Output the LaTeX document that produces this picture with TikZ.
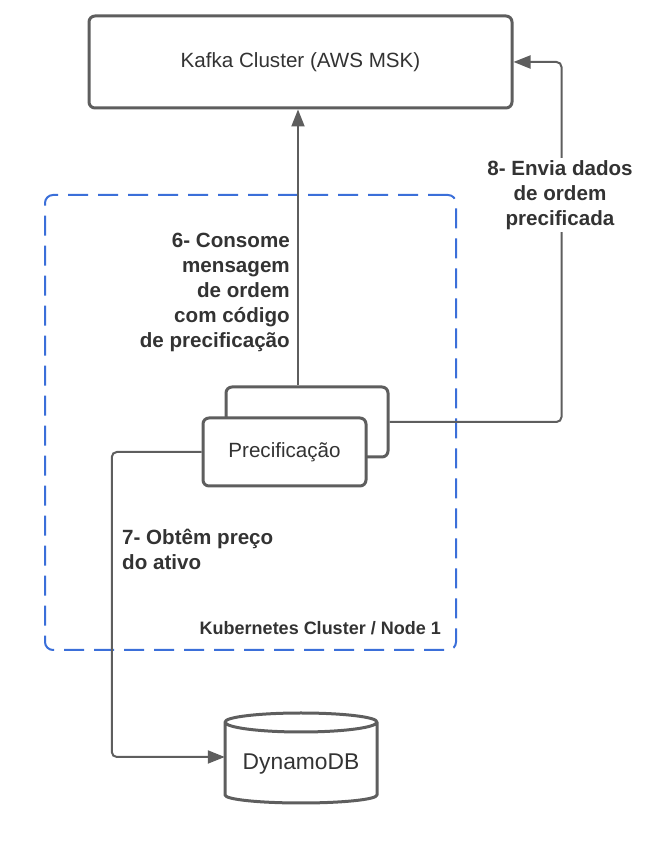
\documentclass[tikz,border=0pt]{standalone}
\usepackage{fontspec}
\setmainfont{Liberation Sans}
\usetikzlibrary{positioning,arrows.meta}
\definecolor{linha}{RGB}{94,94,94}
\definecolor{texto}{RGB}{51,51,51}
\definecolor{kube}{RGB}{59,111,217}
\tikzstyle{every box} = []
\tikzstyle{box} = [rectangle, rounded corners=6pt, draw=linha, line width=3pt, fill=white, text=texto, font=\fontsize{20.6}{24}\selectfont, every box]
\tikzstyle{link} = [-{Triangle[length=17pt,width=13pt]}, draw=linha, line width=2pt, rounded corners=5pt]
\tikzstyle{rotulo} = [text=texto, font=\fontsize{20.6}{25}\selectfont\bfseries, inner sep=2pt]

\begin{document}
\begin{tikzpicture}[x=1pt,y=1pt]
                    \useasboundingbox (0,0) rectangle (656,842);
                    \node[rectangle, draw=kube, line width=2pt, dash pattern=on 20pt off 10pt, rounded corners=8pt, minimum width=411pt, minimum height=455pt] (k8s) at (250.5,419.5) {};
                    \node[rotulo, font=\fontsize{18}{22}\selectfont\bfseries, anchor=east] (k8slabel) at (443,214) {Kubernetes Cluster / Node 1};

                    \node[box, minimum width=423pt, minimum height=92pt] (kafka) at (300.5,780) {Kafka Cluster (AWS MSK)};
                    \node[box, minimum width=162pt, minimum height=70pt] (precb) at (307,420) {};
                    \node[box, minimum width=163pt, minimum height=68pt] (precf) at (284.5,390) {Precificação};

                    % DynamoDB
                    \node[text=texto, font=\fontsize{22.8}{26}\selectfont, minimum width=152pt] (dynamo) at (301,78) {DynamoDB};
                    \draw[draw=linha, line width=3pt, line join=round]
                        ([shift={(-76pt,42pt)}]dynamo.center) coordinate (dbtop)
                        arc[start angle=180, end angle=0, x radius=76pt, y radius=9pt]
                        arc[start angle=0, end angle=-180, x radius=76pt, y radius=10pt]
                        -- ([shift={(-76pt,-31pt)}]dynamo.center)
                        arc[start angle=180, end angle=360, x radius=76pt, y radius=8pt]
                        -- ([shift={(76pt,42pt)}]dynamo.center);

                    % 6- consome
                    \draw[link] ([xshift=-9pt]precb.north) coordinate (consome) -- (consome |- kafka.south);
                    \node[rotulo, align=right, anchor=east] (l6) at (292,550) {6- Consome\\mensagem\\de ordem\\com código\\de precificação};

                    % 8- envia
                    \draw[link] (precb.east) -| ([xshift=48pt]kafka.east) -- (kafka.east);
                    \node[rotulo, align=center, fill=white] (l8) at (560,647) {8- Envia dados\\de ordem\\precificada};

                    % 7- obtem
                    \draw[link] (precf.west) -| ([shift={(-113pt,7pt)}]dynamo.west) -- ([yshift=7pt]dynamo.west);
                    \node[rotulo, align=left, anchor=west] (l7) at (120,292.5) {7- Obtêm preço\\do ativo};
                \end{tikzpicture}
\end{document}
